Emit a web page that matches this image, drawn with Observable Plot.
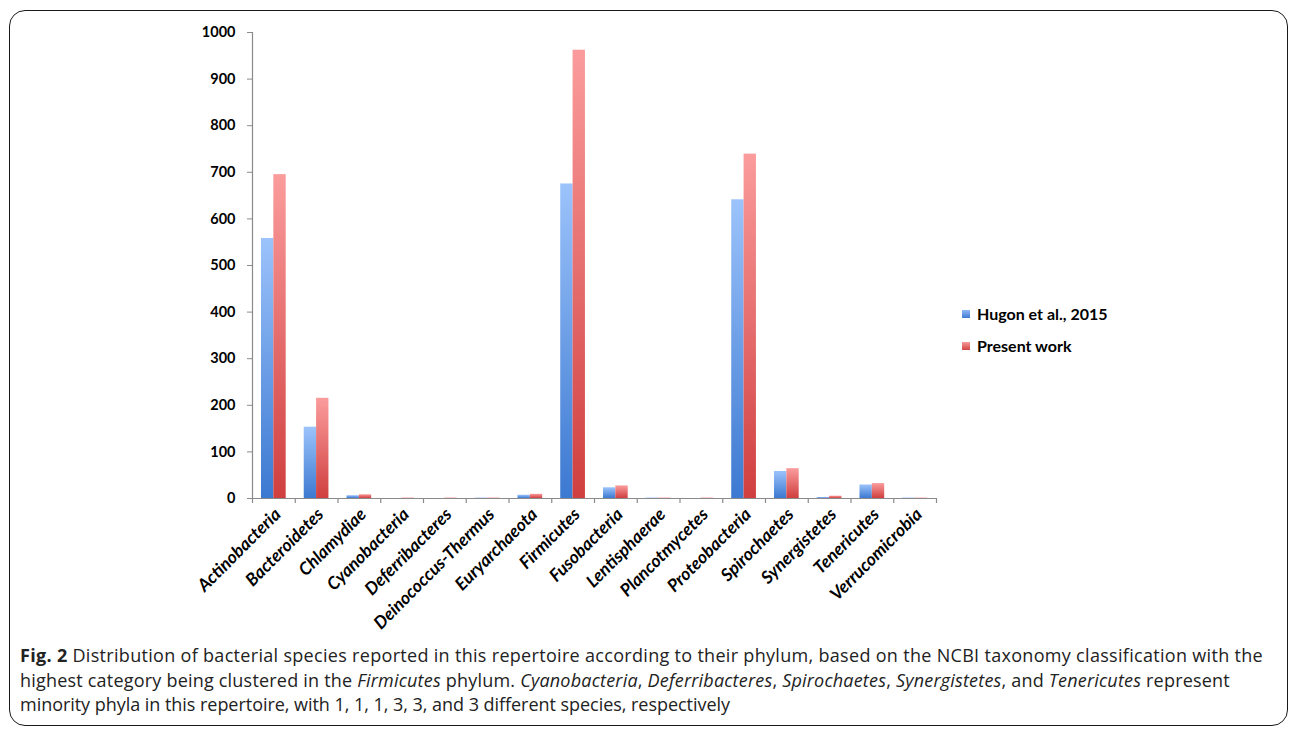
<!DOCTYPE html>
<html>
<head>
<meta charset="utf-8">
<script src="https://cdn.jsdelivr.net/npm/d3@7"></script>
<script src="https://cdn.jsdelivr.net/npm/@observablehq/plot@0.6"></script>
<style>
  html, body { margin: 0; padding: 0; background: #fff; }
  #wrap { position: relative; width: 1293px; height: 732px; overflow: hidden; }
  #border { position: absolute; left: 9px; top: 10px; width: 1279px; height: 716px; border: 1.6px solid #1a1a1a; border-radius: 16px; box-sizing: border-box; }
  #chart { position: absolute; left: 0; top: 0; }
  .legend { position: absolute; left: 962px; font-family: Lato, "Open Sans", sans-serif; font-weight: bold; font-size: 16px; color: #000; display: flex; align-items: center; white-space: nowrap; }
  .legend .sw { width: 8px; height: 8px; margin-right: 7px; }
  #caption { position: absolute; left: 20px; top: 643px; font-family: "Open Sans", sans-serif; font-size: 18px; line-height: 24.5px; color: #222; white-space: nowrap; }
  #caption div { white-space: nowrap; display: block; width: max-content; }
</style>
</head>
<body>
<div id="wrap">
  <div id="border"></div>
  <div id="chart"></div>
  <div class="legend" style="top:304px"><div class="sw" style="background:linear-gradient(#8fb8f5,#3f7bd3)"></div><span id="l1"></span></div>
  <div class="legend" style="top:336px"><div class="sw" style="background:linear-gradient(#f59a9a,#d24444)"></div><span id="l2"></span></div>
  <div id="caption">
    <div data-w="1243"><b>Fig. 2</b> Distribution of bacterial species reported in this repertoire according to their phylum, based on the NCBI taxonomy classification with the</div>
    <div data-w="1210">highest category being clustered in the <i>Firmicutes</i> phylum. <i>Cyanobacteria</i>, <i>Deferribacteres</i>, <i>Spirochaetes</i>, <i>Synergistetes</i>, and <i>Tenericutes</i> represent</div>
    <div data-w="710">minority phyla in this repertoire, with 1, 1, 1, 3, 3, and 3 different species, respectively</div>
  </div>
</div>
<script>
const categories = ["Actinobacteria","Bacteroidetes","Chlamydiae","Cyanobacteria","Deferribacteres","Deinococcus-Thermus","Euryarchaeota","Firmicutes","Fusobacteria","Lentisphaerae","Plancotmycetes","Proteobacteria","Spirochaetes","Synergistetes","Tenericutes","Verrucomicrobia"];
const hugon2015 = [558, 153, 6, 0, 0, 1, 7, 675, 23, 1, 0, 641, 58, 2, 29, 1];
const presentWork = [695, 215, 8, 1, 1, 1, 9, 962, 27, 1, 1, 739, 64, 5, 32, 1];
const seriesNames = ["Hugon et al., 2015", "Present work"];
const yTicks = [0, 100, 200, 300, 400, 500, 600, 700, 800, 900, 1000];

document.getElementById("l1").textContent = seriesNames[0];
document.getElementById("l2").textContent = seriesNames[1];

const W = 1293, H = 640, mL = 252, mR = 357, mT = 32, mB = 142;
const step = (W - mL - mR) / categories.length;
const bw = step * 0.289;
const gap = step * 0.21;

const blueData = categories.map((c, i) => ({cat: c, v: hugon2015[i]}));
const redData = categories.map((c, i) => ({cat: c, v: presentWork[i]}));
const axisColor = "#8a8a8a";

const plot = Plot.plot({
  width: W, height: H,
  marginLeft: mL, marginRight: mR, marginTop: mT, marginBottom: mB,
  style: {fontFamily: "Lato, 'Open Sans', sans-serif", background: "transparent"},
  x: {type: "band", domain: categories, padding: 0, round: false, axis: null},
  y: {domain: [0, 1000], axis: null},
  marks: [
    Plot.barY(blueData, {x: "cat", y: "v", fill: "url(#gBlue)", insetLeft: gap, insetRight: step - gap - bw}),
    Plot.barY(redData, {x: "cat", y: "v", fill: "url(#gRed)", insetLeft: gap + bw, insetRight: step - gap - 2 * bw}),
    Plot.ruleY([0], {stroke: axisColor, strokeWidth: 1.2}),
    Plot.ruleX([categories[0]], {x: d => d, dx: -step / 2, y1: 0, y2: 1000, stroke: axisColor, strokeWidth: 1.2}),
    Plot.ruleX(categories, {x: d => d, dx: -step / 2, y1: 0, y2: 0, insetBottom: -5, stroke: axisColor, strokeWidth: 1.2}),
    Plot.ruleX([categories[categories.length - 1]], {x: d => d, dx: step / 2, y1: 0, y2: 0, insetBottom: -5, stroke: axisColor, strokeWidth: 1.2}),
    Plot.axisY({ticks: yTicks, tickSize: 5, tickPadding: 12, stroke: axisColor, fontSize: 14.5, fontWeight: "bold", fill: "#000", tickFormat: d => String(d), label: null}),
    Plot.axisX({tickSize: 0, tickRotate: -45, tickPadding: 13, dx: 4, fontSize: 17.5, fontWeight: "bold", fontStyle: "italic", fill: "#000", label: null})
  ]
});

const svg = d3.select(plot);
const defs = svg.insert("defs", ":first-child");
const gb = defs.append("linearGradient").attr("id", "gBlue").attr("x1", 0).attr("y1", 0).attr("x2", 0).attr("y2", 1);
gb.append("stop").attr("offset", "0%").attr("stop-color", "#9cc3fb");
gb.append("stop").attr("offset", "100%").attr("stop-color", "#3c79d1");
const gr = defs.append("linearGradient").attr("id", "gRed").attr("x1", 0).attr("y1", 0).attr("x2", 0).attr("y2", 1);
gr.append("stop").attr("offset", "0%").attr("stop-color", "#fb9c9c");
gr.append("stop").attr("offset", "100%").attr("stop-color", "#d03f3f");

document.getElementById("chart").appendChild(plot);

// fit each caption line to the reference line width
document.querySelectorAll("#caption div").forEach(div => {
  const target = +div.dataset.w;
  const w = div.getBoundingClientRect().width;
  const n = div.textContent.length;
  div.style.letterSpacing = ((target - w) / n) + "px";
});
</script>
</body>
</html>
